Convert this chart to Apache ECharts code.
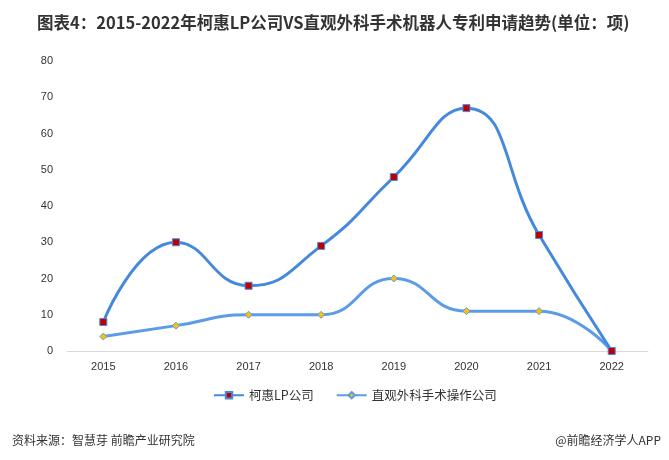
<!DOCTYPE html>
<html><head><meta charset="utf-8">
<script src="https://cdn.jsdelivr.net/npm/echarts@6/dist/echarts.min.js"></script>
<style>html,body{margin:0;padding:0;background:#fff}#c{width:669px;height:460px}</style>
</head><body><div id="c"></div>
<script>
var categories = ['2015','2016','2017','2018','2019','2020','2021','2022'];
var covidienValues = [8, 30, 18, 29, 48, 67, 32, 0];
var intuitiveValues = [4, 7, 10, 10, 20, 11, 11, 0];
var yTicks = [0, 10, 20, 30, 40, 50, 60, 70, 80];
var seriesNames = ['柯惠LP公司', '直观外科手术操作公司'];

var chart = echarts.init(document.getElementById('c'));
chart.setOption({
  animation: false,
  backgroundColor: '#fff',
  title: [{
    text: '图表4：2015-2022年柯惠LP公司VS直观外科手术机器人专利申请趋势(单位：项)',
    left: 32, top: 9,
    textStyle: {fontSize: 16.5, fontWeight: 'bold', color: '#333', fontFamily: 'Liberation Sans Narrow, Noto Sans CJK SC'}
  }, {
    text: '资料来源：智慧芽 前瞻产业研究院',
    left: 7, top: 429,
    textStyle: {fontSize: 12, fontWeight: 'normal', color: '#333', fontFamily: 'Noto Sans CJK SC'}
  }, {
    text: '@前瞻经济学人APP',
    right: 3, top: 429,
    textStyle: {fontSize: 12, fontWeight: 'normal', color: '#333', fontFamily: 'Noto Sans CJK SC'}
  }],
  legend: {
    top: 384, left: 208, itemGap: 22, itemWidth: 30, itemHeight: 8,
    textStyle: {fontSize: 12.5, color: '#333', fontFamily: 'Noto Sans CJK SC'},
    data: seriesNames
  },
  grid: {left: 67, right: 21, top: 61, bottom: 109},
  xAxis: {
    type: 'category', data: categories, boundaryGap: true,
    axisLine: {lineStyle: {color: '#d9d9d9'}},
    axisTick: {show: false},
    axisLabel: {color: '#333', fontSize: 11, margin: 10}
  },
  yAxis: {
    type: 'value', min: yTicks[0], max: yTicks[yTicks.length-1], interval: 10,
    axisLine: {show: false}, axisTick: {show: false},
    splitLine: {show: false},
    axisLabel: {color: '#333', fontSize: 11, margin: 14}
  },
  series: [{
    name: seriesNames[0], type: 'line', data: covidienValues, smooth: 0.5,
    symbol: 'rect', symbolSize: 7,
    lineStyle: {color: '#4589dc', width: 3},
    itemStyle: {color: '#c00000', borderColor: '#4589dc', borderWidth: 1},
    z: 3
  }, {
    name: seriesNames[1], type: 'line', data: intuitiveValues, smooth: 0.5,
    symbol: 'diamond', symbolSize: 7,
    lineStyle: {color: '#5c9ce6', width: 3},
    itemStyle: {color: '#ffc000', borderColor: '#5c9ce6', borderWidth: 1},
    z: 2
  }]
});
</script></body></html>
